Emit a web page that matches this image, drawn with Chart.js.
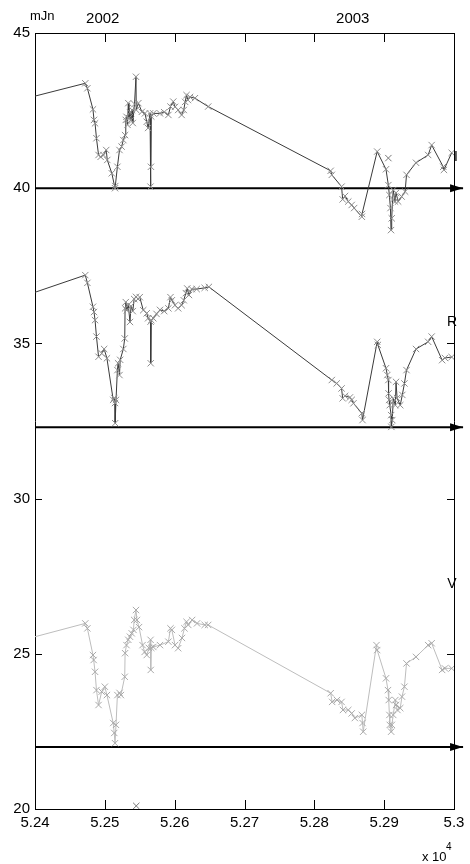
<!DOCTYPE html>
<html>
<head>
<meta charset="utf-8">
<style>
  html, body { margin: 0; padding: 0; background: #fff; }
</style>
<script src="https://cdn.jsdelivr.net/npm/chart.js@4"></script>
</head>
<body>
<canvas id="lc" width="470" height="864"></canvas>
<script>
// light curves (MJD, magnitude-like value)
const mjdI = [52390, 52472, 52475, 52483, 52484.5, 52486, 52488, 52491, 52494, 52498, 52502, 52503.5, 52510, 52514.6, 52515,
  52518, 52521, 52524, 52526.5, 52529, 52530, 52531, 52532.5, 52533.6, 52534.6, 52536, 52537.5, 52539, 52540, 52542.5,
  52544.6, 52545, 52548, 52553, 52557.5, 52560, 52562, 52564.7, 52565.4, 52566, 52566.5, 52569.4, 52579, 52585, 52591,
  52594, 52598, 52600.5, 52605, 52610, 52613, 52615, 52617, 52619, 52622, 52629, 52648,
  52823.4, 52825, 52839, 52840.6, 52844, 52848.6, 52853.5, 52857, 52868, 52868.3, 52890, 52902.6, 52906, 52907.4, 52909,
  52909.8, 52910.8, 52912, 52913, 52915.5, 52917, 52920, 52925, 52930, 52932, 52945.6, 52963, 52968, 52984.6, 52985.6, 52996.7];
const magI = [42.91, 43.38, 43.22, 42.54, 42.20, 42.09, 41.61, 41.07, 41.01, 41.07, 41.23, 40.91, 40.48, 40.00, 40.07,
  40.69, 41.23, 41.34, 41.55, 41.71, 42.20, 42.30, 42.04, 42.74, 42.26, 42.45, 42.20, 42.52, 42.10, 42.71,
  43.59, 42.52, 42.74, 42.46, 42.41, 42.14, 41.94, 42.41, 40.05, 40.69, 42.31, 42.41, 42.41, 42.45, 42.36,
  42.63, 42.79, 42.62, 42.52, 42.36, 42.52, 42.78, 43.00, 42.84, 42.94, 42.90, 42.63,
  40.56, 40.43, 40.05, 39.64, 39.75, 39.57, 39.46, 39.36, 39.08, 39.17, 41.18, 40.61, 40.10, 39.78, 39.36,
  38.65, 39.03, 39.62, 39.94, 39.57, 39.85, 39.57, 39.73, 39.89, 40.43, 40.82, 41.07, 41.39, 40.69, 40.59, 41.14];

const mjdR = [52390, 52472, 52475, 52483, 52484.5, 52486, 52488, 52491, 52495.5, 52499, 52503, 52512, 52513.5, 52514.6, 52514.8,
  52516, 52518, 52519, 52521, 52522, 52526.5, 52528.5, 52529, 52530, 52531.5, 52533.6, 52536, 52537.5, 52540, 52542,
  52544.6, 52547.5, 52550, 52555, 52560, 52562, 52565.5, 52565.7, 52566.5, 52569.4, 52574, 52579, 52585, 52591, 52594,
  52596, 52600.5, 52605, 52610, 52613, 52616, 52618, 52620.5, 52624.4, 52631.5, 52643, 52649,
  52825, 52832, 52839, 52840.6, 52844, 52851, 52853.5, 52856, 52868, 52869, 52890, 52891, 52902.6, 52904.5, 52906,
  52906.3, 52907, 52908, 52910, 52910.3, 52911.6, 52913, 52916, 52917, 52918.5, 52923, 52926, 52929, 52932, 52945.6,
  52963, 52968, 52983, 52987, 52996.7];
const magR = [36.57, 37.20, 36.95, 36.18, 36.01, 35.75, 35.22, 34.57, 34.68, 34.82, 34.52, 33.18, 33.24, 33.08, 32.43,
  33.18, 34.14, 34.36, 33.98, 34.47, 34.82, 35.16, 36.13, 36.33, 36.07, 36.24, 35.69, 36.20, 36.04, 36.43,
  36.50, 36.43, 36.49, 36.07, 35.97, 35.81, 35.70, 34.36, 35.75, 35.81, 35.95, 36.08, 36.04, 36.13, 36.49,
  36.39, 36.23, 36.13, 36.23, 36.39, 36.62, 36.77, 36.56, 36.75, 36.75, 36.79, 36.82,
  33.82, 33.71, 33.55, 33.23, 33.31, 33.26, 33.18, 33.07, 32.75, 32.53, 35.05, 34.95, 34.20, 33.98, 33.82,
  33.39, 33.18, 33.01, 32.69, 32.31, 32.53, 33.23, 33.01, 33.76, 33.24, 33.01, 33.34, 33.71, 34.14, 34.82,
  35.05, 35.22, 34.46, 34.53, 34.56];

const mjdV = [52390, 52472, 52475, 52483, 52484, 52486, 52488, 52491, 52495.5, 52500, 52503, 52512, 52513.5, 52514.6, 52516,
  52518, 52521, 52523, 52528.5, 52529, 52531, 52533.6, 52536, 52538.5, 52541, 52542, 52544.6, 52546, 52549, 52554,
  52557, 52560, 52563, 52565.5, 52565.7, 52566.5, 52569.4, 52579, 52591, 52594, 52596, 52600.5, 52605, 52610.5, 52614,
  52617, 52619.5, 52625, 52632, 52643, 52648,
  52823.4, 52825.5, 52832.5, 52839, 52841, 52848.6, 52853.5, 52858, 52868, 52869, 52870, 52889, 52890, 52902.6, 52905.5,
  52906.5, 52907.5, 52908, 52910, 52911, 52913, 52916, 52917, 52919, 52923, 52925.5, 52929, 52932, 52945.6, 52963,
  52968, 52983, 52987, 52996.7];
const magV = [25.49, 25.98, 25.82, 24.96, 24.80, 24.42, 23.83, 23.35, 23.78, 23.94, 23.67, 22.77, 22.45, 22.12, 22.71,
  23.67, 23.74, 23.67, 24.26, 25.02, 25.28, 25.45, 25.55, 25.66, 25.77, 26.09, 26.41, 26.09, 25.86, 25.28,
  25.06, 24.96, 25.19, 25.45, 24.48, 25.19, 25.22, 25.28, 25.39, 25.82, 25.77, 25.28, 25.18, 25.51, 25.82,
  26.03, 25.93, 26.09, 25.98, 25.93, 25.93,
  23.73, 23.45, 23.51, 23.45, 23.19, 23.19, 23.08, 22.93, 23.03, 22.77, 22.49, 25.28, 25.12, 24.21, 23.83,
  23.51, 23.03, 22.71, 22.49, 22.71, 23.03, 23.51, 23.35, 23.19, 23.25, 23.62, 23.94, 24.69, 24.90, 25.28,
  25.34, 24.48, 24.53, 24.53];

// lone marks not joined by the lines
const strayMjd = [52906, 52545];
const strayMag = [40.97, 20.10];

// reference levels drawn as arrows
const arrowLevels = [40.0, 32.3, 22.0];
const arrowStart = 52400;
const arrowEnd = 53013;

// tick labels
const yearLabels = ['2002', '2003'];
const yearMjd = [52497, 52855];
const bandLabels = ['I', 'R', 'V'];
const bandLabelMag = [41.0, 35.7, 27.25];

const FONT = '"Liberation Sans", Arial, sans-serif';

function pts(xs, ys) {
    return xs.map((x, i) => ({ x: x, y: ys[i] }));
}

function curve(label, xs, ys, line, mark) {
    return {
        label: label,
        data: pts(xs, ys),
        showLine: true,
        borderColor: line,
        borderWidth: 1,
        pointStyle: 'crossRot',
        pointRadius: c => (c.raw && c.raw.x < 52400 ? 0 : 4.5),
        pointBorderColor: mark,
        pointBorderWidth: 1,
        pointBackgroundColor: mark,
        tension: 0
    };
}

const datasets = [
    curve('I', mjdI, magI, '#3a3a3a', '#8c8c8c'),
    curve('R', mjdR, magR, '#3a3a3a', '#8c8c8c'),
    curve('V', mjdV, magV, '#bdbdbd', '#a9a9a9'),
    {
        label: 'stray',
        data: pts(strayMjd, strayMag),
        showLine: false,
        pointStyle: 'crossRot',
        pointRadius: 4.5,
        pointBorderColor: '#777',
        pointBorderWidth: 1
    }
];

arrowLevels.forEach(lv => {
    datasets.push({
        label: 'arrow',
        isArrow: true,
        data: [{ x: arrowStart, y: lv }, { x: arrowEnd, y: lv }],
        showLine: true,
        borderColor: '#000',
        borderWidth: 2,
        pointRadius: 0,
        clip: false
    });
});

// inward tick marks, arrow heads and loose text
const decor = {
    id: 'decor',
    afterDatasetsDraw(chart) {
        const { ctx, chartArea: a, scales } = chart;
        const x = scales.x, y = scales.y;
        ctx.save();
        ctx.strokeStyle = '#000';
        ctx.lineWidth = 1;
        ctx.beginPath();
        x.ticks.forEach(t => {
            if (t.value <= x.min || t.value >= x.max) return;
            const px = Math.round(x.getPixelForValue(t.value)) + 0.5;
            ctx.moveTo(px, a.bottom); ctx.lineTo(px, a.bottom - 9);
            ctx.moveTo(px, a.top); ctx.lineTo(px, a.top + 9);
        });
        y.ticks.forEach(t => {
            if (t.value <= y.min || t.value >= y.max) return;
            const py = Math.round(y.getPixelForValue(t.value)) + 0.5;
            ctx.moveTo(a.left, py); ctx.lineTo(a.left + 7, py);
            ctx.moveTo(a.right, py); ctx.lineTo(a.right - 7, py);
        });
        ctx.stroke();

        // arrow heads
        ctx.fillStyle = '#000';
        chart.data.datasets.forEach((ds, i) => {
            if (!ds.isArrow) return;
            const pts = chart.getDatasetMeta(i).data;
            const tip = pts[pts.length - 1];
            ctx.beginPath();
            ctx.moveTo(tip.x, tip.y);
            ctx.lineTo(tip.x - 13, tip.y - 4);
            ctx.lineTo(tip.x - 13, tip.y + 4);
            ctx.closePath();
            ctx.fill();
        });

        // band names, sitting on the right frame
        ctx.font = '14px ' + FONT;
        ctx.textAlign = 'center';
        ctx.textBaseline = 'middle';
        const shift = [2, -2, -2];
        bandLabels.forEach((b, i) => {
            ctx.fillText(b, a.right + shift[i], y.getPixelForValue(bandLabelMag[i]));
        });

        // unit and exponent
        ctx.textAlign = 'left';
        ctx.textBaseline = 'alphabetic';
        ctx.font = '13px ' + FONT;
        ctx.fillText('mJn', 30, 20);
        ctx.fillText('x 10', 422, 861);
        ctx.font = '10px ' + FONT;
        ctx.fillText('4', 446, 850);
        ctx.restore();
    }
};

const tickFont = { family: FONT, size: 15 };

new Chart(document.getElementById('lc'), {
    type: 'scatter',
    data: { datasets: datasets },
    options: {
        responsive: false,
        animation: false,
        events: [],
        layout: { padding: 0 },
        plugins: { legend: { display: false }, tooltip: { enabled: false } },
        scales: {
            x: {
                type: 'linear', position: 'bottom', min: 52400, max: 53000,
                grid: { display: false, drawTicks: false },
                border: { display: true, color: '#000', width: 1 },
                ticks: {
                    stepSize: 100, color: '#000', font: tickFont, padding: 5, maxRotation: 0,
                    callback: v => String(parseFloat((v / 10000).toFixed(2)))
                },
                afterFit: s => { s.height = 55; }
            },
            x2: {
                type: 'linear', position: 'top', min: 52400, max: 53000,
                grid: { display: false, drawTicks: false },
                border: { display: true, color: '#000', width: 1 },
                afterBuildTicks: s => { s.ticks = yearMjd.map(v => ({ value: v })); },
                ticks: {
                    color: '#000', font: tickFont, padding: 5, maxRotation: 0, autoSkip: false,
                    callback: (v, i) => yearLabels[i]
                },
                afterFit: s => { s.height = 33; }
            },
            y: {
                type: 'linear', position: 'left', min: 20, max: 45,
                grid: { display: false, drawTicks: false },
                border: { display: true, color: '#000', width: 1 },
                ticks: { stepSize: 5, color: '#000', font: tickFont, padding: 5 },
                afterFit: s => { s.width = 35; }
            },
            y2: {
                type: 'linear', position: 'right', min: 20, max: 45,
                grid: { display: false, drawTicks: false },
                border: { display: true, color: '#000', width: 1 },
                ticks: { display: false },
                afterFit: s => { s.width = 16; }
            }
        }
    },
    plugins: [decor]
});
</script>
</body>
</html>
